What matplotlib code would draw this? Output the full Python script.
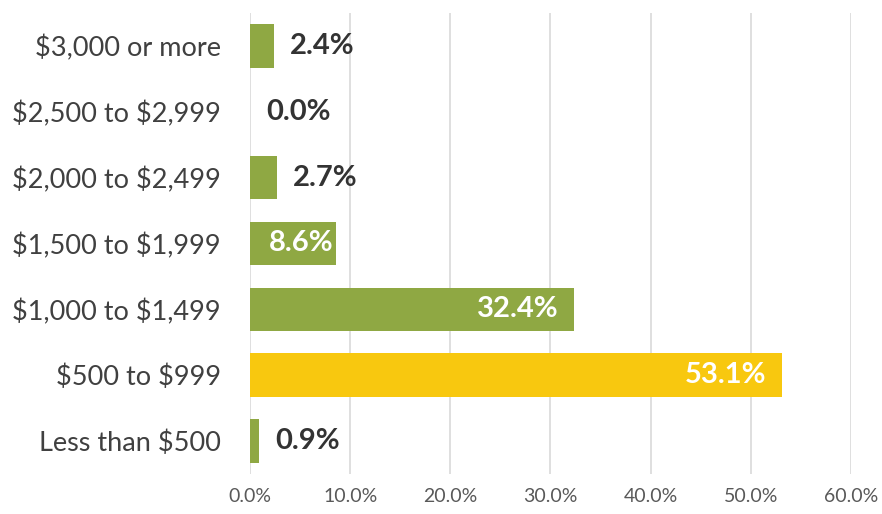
import matplotlib.pyplot as plt
from matplotlib.transforms import offset_copy

categories = ['Less than $500', '$500 to $999', '$1,000 to $1,499', '$1,500 to $1,999',
              '$2,000 to $2,499', '$2,500 to $2,999', '$3,000 or more']
values = [0.9, 53.1, 32.4, 8.6, 2.7, 0.0, 2.4]
highlight = '$500 to $999'

green = '#8fa843'
yellow = '#f8c80f'

plt.rcParams['font.family'] = ['Lato', 'DejaVu Sans']
plt.rcParams['text.parse_math'] = False

fig = plt.figure(figsize=(8.82, 5.14), dpi=100)
ax = fig.add_axes([0.2834, 0.0778, 0.6814, 0.897])

colors = [yellow if c == highlight else green for c in categories]
ypos = range(len(categories))
ax.barh(ypos, values, height=0.66, color=colors, zorder=3)

ax.set_xlim(0, 60)
ax.set_ylim(-0.5, len(categories) - 0.5)
ax.set_xticks(range(0, 61, 10))
ax.set_xticklabels(['%.1f%%' % t for t in range(0, 61, 10)], fontsize=14, color='#595959')
ax.set_yticks(list(ypos))
ax.set_yticklabels(categories, fontsize=19.5, color='#404040')
ax.tick_params(axis='x', length=0, pad=10)
ax.tick_params(axis='y', length=0, pad=21)
ax.grid(axis='x', color='#d9d9d9', linewidth=1.2, zorder=0)
for s in ax.spines.values():
    s.set_visible(False)

for y, v in zip(ypos, values):
    if v > 5:
        pad = -16 if v > 20 else -3
        tr = offset_copy(ax.transData, fig=fig, x=pad, y=0, units='dots')
        ax.text(v, y, '%.1f%%' % v, transform=tr, ha='right', va='center',
                fontsize=21, fontweight='bold', color='white', zorder=4)
    else:
        tr = offset_copy(ax.transData, fig=fig, x=16, y=0, units='dots')
        ax.text(v, y, '%.1f%%' % v, transform=tr, ha='left', va='center',
                fontsize=21, fontweight='bold', color='#333333', zorder=4)

fig.savefig('out.png', dpi=100)
